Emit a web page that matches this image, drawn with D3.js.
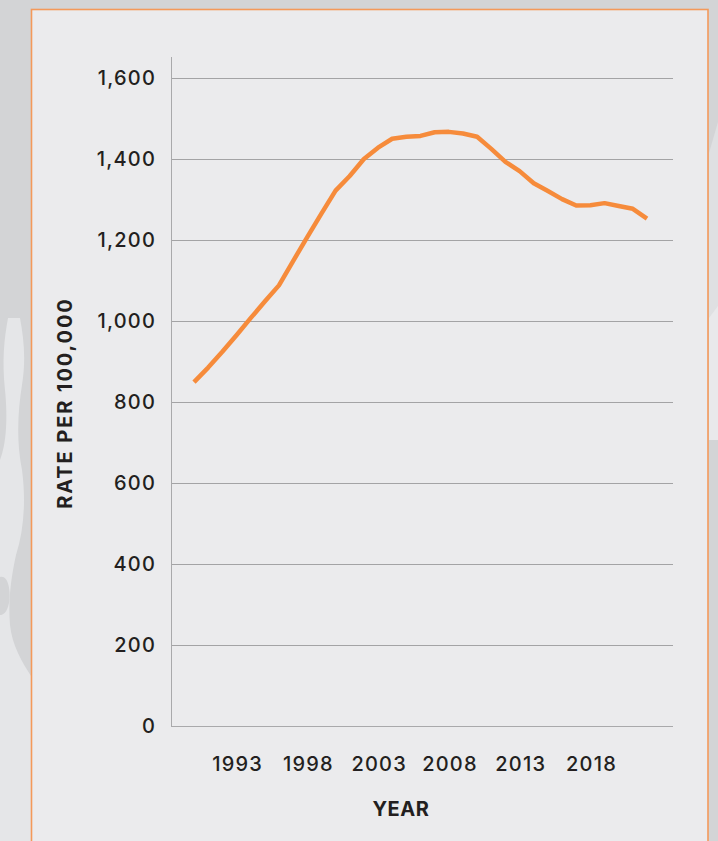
<!DOCTYPE html>
<html>
<head>
<meta charset="utf-8">
<script src="https://cdn.jsdelivr.net/npm/d3@7"></script>
<style>
  html, body { margin: 0; padding: 0; background: #d3d4d6; }
  svg { display: block; }
  .tick text { font-family: Inter, "Open Sans", sans-serif; font-size: 20px; font-weight: 500; fill: #231f20; letter-spacing: 1.2px; }
  .axis-title { font-family: Inter, "Open Sans", sans-serif; font-size: 20px; font-weight: 700; fill: #231f20; }
</style>
</head>
<body>
<div id="chart"></div>
<script>
const years = [1990, 1991, 1992, 1993, 1994, 1995, 1996, 1997, 1998, 1999, 2000,
  2001, 2002, 2003, 2004, 2005, 2006, 2007, 2008, 2009, 2010,
  2011, 2012, 2013, 2014, 2015, 2016, 2017, 2018, 2019, 2020, 2021, 2022];
const rates = [849, 885, 924, 965, 1007, 1048, 1088, 1148, 1207, 1265, 1322,
  1358, 1400, 1428, 1450, 1455, 1457, 1466, 1467, 1463, 1455,
  1425, 1393, 1370, 1340, 1321, 1301, 1285, 1286, 1291, 1284, 1277, 1253];
const yTicks = [0, 200, 400, 600, 800, 1000, 1200, 1400, 1600];
const xTicks = [1993, 1998, 2003, 2008, 2013, 2018];

const width = 718;
const height = 841;
const plotLeft = 171, plotRight = 673, plotTop = 57, plotBottom = 726;

let svg = d3.select("#chart")
  .append("svg")
  .attr("width", width)
  .attr("height", height);

// background with camo shapes at the edges
svg.append("rect").attr("width", width).attr("height", height).attr("fill", "#d3d4d6");

let camo = svg.append("g").attr("fill", "#e5e6e8");
camo.append("rect").attr("x", 0).attr("y", 318).attr("width", 31).attr("height", 523);
camo.append("path").attr("d", "M709,153 L718,122 L718,440 L709,440 Z").attr("fill", "#dfe0e2");
camo.append("path").attr("d", "M709,318 L718,306 L718,440 L709,440 Z").attr("fill", "#e9e9eb");

let dark = svg.append("g").attr("fill", "#d3d4d6");
dark.append("path").attr("d", "M31,318 L20,318 C24,340 26,360 22,385 C18,410 16,440 22,470 C26,500 24,530 16,555 C11,578 8,600 10,625 C12,645 22,662 31,676 Z");
dark.append("path").attr("d", "M0,318 L8,318 C4,340 2,360 5,390 C8,420 6,445 0,460 Z");
dark.append("path").attr("d", "M0,577 C8,575 11,590 9,603 C7,613 3,615 0,615 Z");

// panel
svg.append("rect")
  .attr("x", 31.5).attr("y", 9.5)
  .attr("width", 676.5).attr("height", 900)
  .attr("fill", "#ebebed")
  .attr("stroke", "#f4995a")
  .attr("stroke-width", 1.6);

let x = d3.scaleLinear().domain([1990, 2022]).range([194, 647]);
let y = d3.scaleLinear().domain([0, 1600]).range([plotBottom, 78]);

// gridlines
svg.append("g")
  .selectAll("line")
  .data(yTicks.filter((d) => d > 0))
  .enter()
  .append("line")
  .attr("x1", plotLeft)
  .attr("x2", plotRight)
  .attr("y1", (d) => Math.round(y(d)) + 0.5)
  .attr("y2", (d) => Math.round(y(d)) + 0.5)
  .attr("stroke", "#a3a3a5")
  .attr("stroke-width", 1);

// axis lines
svg.append("line")
  .attr("x1", plotLeft + 0.5).attr("x2", plotLeft + 0.5)
  .attr("y1", plotTop).attr("y2", plotBottom + 0.5)
  .attr("stroke", "#a9a9ab");
svg.append("line")
  .attr("x1", plotLeft).attr("x2", plotRight)
  .attr("y1", plotBottom + 0.5).attr("y2", plotBottom + 0.5)
  .attr("stroke", "#a9a9ab");

// y axis labels
let yAxis = svg.append("g")
  .attr("transform", "translate(" + plotLeft + ",0)")
  .call(d3.axisLeft(y).tickValues(yTicks).tickSize(0).tickPadding(15).tickFormat(d3.format(",")));
yAxis.select(".domain").remove();

// x axis labels
let xAxis = svg.append("g")
  .attr("transform", "translate(0," + plotBottom + ")")
  .call(d3.axisBottom(x).tickValues(xTicks).tickSize(0).tickPadding(31).tickFormat(d3.format("d")));
xAxis.select(".domain").remove();
xAxis.selectAll("text").attr("dx", "0.6px");

// axis titles
svg.append("text")
  .attr("class", "axis-title")
  .attr("text-anchor", "middle")
  .attr("letter-spacing", "1.9px")
  .attr("transform", "translate(72,403) rotate(-90)")
  .text("RATE PER 100,000");

svg.append("text")
  .attr("class", "axis-title")
  .attr("text-anchor", "middle")
  .attr("letter-spacing", "0.6px")
  .attr("x", 401)
  .attr("y", 816)
  .text("YEAR");

// line
let line = d3.line()
  .x((d, i) => x(years[i]))
  .y((d) => y(d));

svg.append("path")
  .datum(rates)
  .attr("fill", "none")
  .attr("stroke", "#f68b3b")
  .attr("stroke-width", 4.5)
  .attr("stroke-linejoin", "round")
  .attr("d", line);
</script>
</body>
</html>
